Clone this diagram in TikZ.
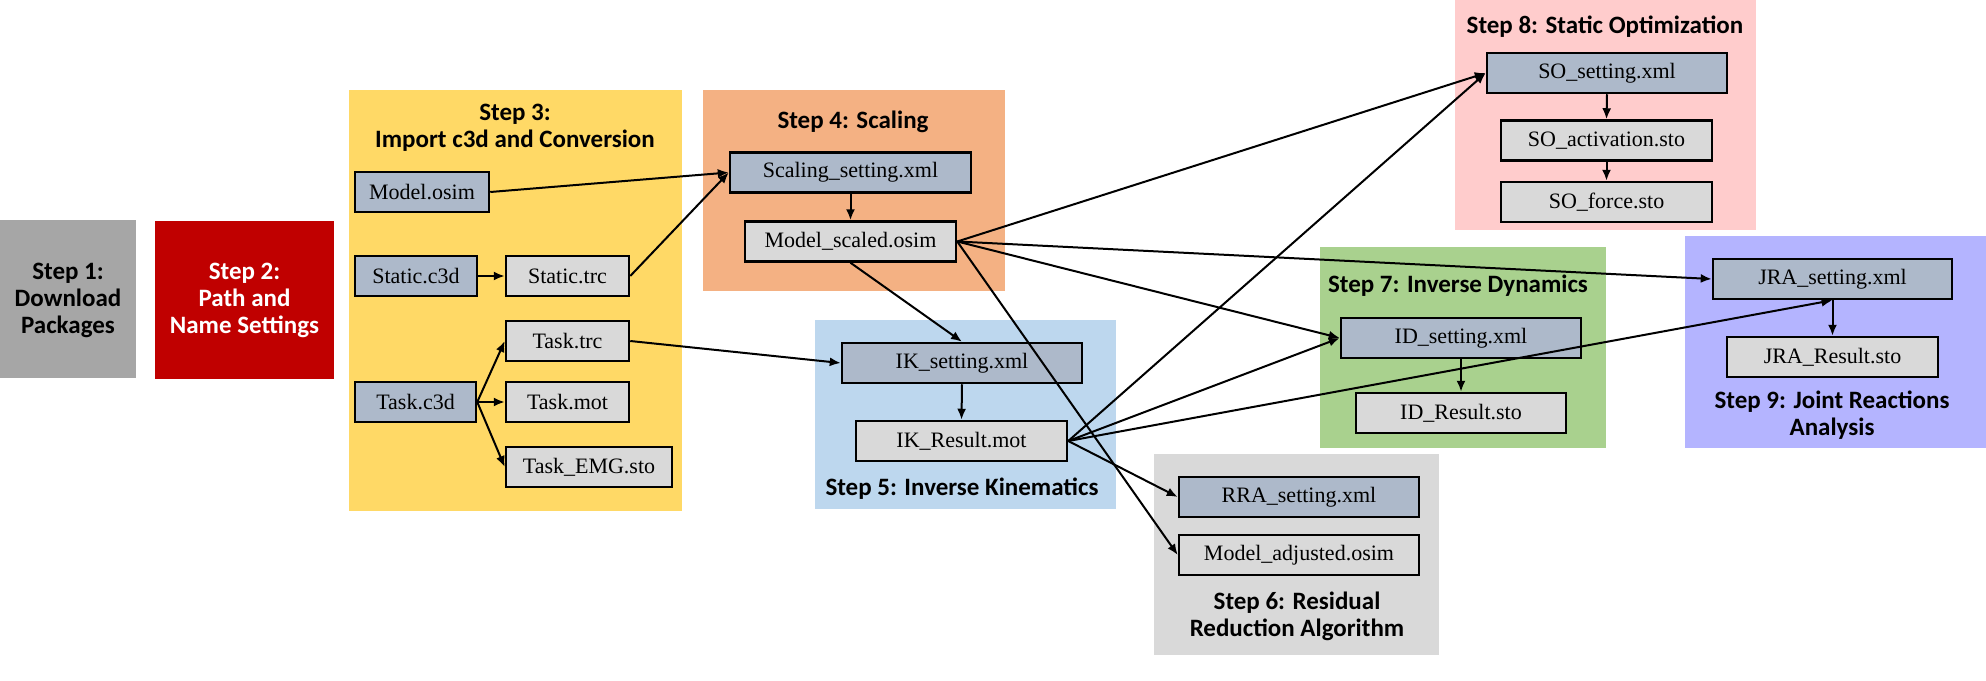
\documentclass[tikz,border=0pt]{standalone}
\usepackage{fontspec}
\setmainfont{Liberation Serif}
\newfontfamily\titlefont{Carlito}
\usetikzlibrary{arrows.meta}
\definecolor{cOne}{HTML}{A6A6A6}
\definecolor{cTwo}{HTML}{C00000}
\definecolor{cThree}{HTML}{FFD966}
\definecolor{cFour}{HTML}{F4B183}
\definecolor{cFive}{HTML}{BDD7EE}
\definecolor{cSix}{HTML}{D9D9D9}
\definecolor{cSeven}{HTML}{A9D18E}
\definecolor{cEight}{HTML}{FFCCCC}
\definecolor{cNine}{HTML}{B4B4FF}
\definecolor{setc}{HTML}{ADB9CA}
\definecolor{resc}{HTML}{D9D9D9}
\begin{document}
\begin{tikzpicture}[x=1pt,y=-1pt,
  bg/.style={draw=none, inner sep=0pt},
  file/.style={draw=black, line width=2.5pt, inner sep=0pt, minimum height=40pt, font=\fontsize{22}{24}\selectfont},
  sett/.style={file, fill=setc},
  res/.style={file, fill=resc},
  ttl/.style={font=\titlefont\bfseries\fontsize{25}{27}\selectfont, align=center, inner sep=0pt},
  arr/.style={line width=2pt, -{Latex[length=11pt,width=9pt]}},
]
\useasboundingbox (0,0) rectangle (1986,680);
\fill[white] (0,0) rectangle (1986,680);
% backgrounds
\node[bg, fill=cOne,   minimum width=136pt, minimum height=158pt] (s1) at (68,299) {};
\node[bg, fill=cTwo,   minimum width=179pt, minimum height=158pt] (s2) at (244.5,300) {};
\node[bg, fill=cThree, minimum width=333pt, minimum height=421pt] (s3) at (515.5,300.5) {};
\node[bg, fill=cFour,  minimum width=302pt, minimum height=201pt] (s4) at (854,190.5) {};
\node[bg, fill=cFive,  minimum width=301pt, minimum height=189pt] (s5) at (965.5,414.5) {};
\node[bg, fill=cSix,   minimum width=285pt, minimum height=201pt] (s6) at (1296.5,554.5) {};
\node[bg, fill=cSeven, minimum width=286pt, minimum height=201pt] (s7) at (1463,347.5) {};
\node[bg, fill=cEight, minimum width=301pt, minimum height=230pt] (s8) at (1605.5,115) {};
\node[bg, fill=cNine,  minimum width=301pt, minimum height=212pt] (s9) at (1835.5,342) {};
% titles
\node[ttl] (t1) at (68,300) {Step 1:\\Download\\Packages};
\node[ttl, text=white] (t2) at (244.5,300) {Step 2:\\Path and\\Name Settings};
\node[ttl] (t3) at (515,128) {Step 3:\\Import c3d and Conversion};
\node[ttl] (t4) at (853,122) {Step 4: Scaling};
\node[ttl] (t5) at (962,489) {Step 5: Inverse Kinematics};
\node[ttl] (t6) at (1297,616) {Step 6: Residual\\Reduction Algorithm};
\node[ttl] (t7) at (1458,286) {Step 7: Inverse Dynamics};
\node[ttl] (t8) at (1605,27) {Step 8: Static Optimization};
\node[ttl] (t9) at (1832,415) {Step 9: Joint Reactions\\Analysis};
% files
\node[sett, minimum width=134pt] (model) at (422,192) {Model.osim};
\node[sett, minimum width=122pt] (static) at (416,276) {Static.c3d};
\node[res, minimum width=123pt] (strc) at (567.5,276) {Static.trc};
\node[res, minimum width=123pt] (ttrc) at (567.5,341) {Task.trc};
\node[sett, minimum width=121pt] (tc3d) at (415.5,402) {Task.c3d};
\node[res, minimum width=123pt] (tmot) at (567.5,402) {Task.mot};
\node[res, minimum width=166pt] (temg) at (589,467) {Task\_EMG.sto};
\node[sett, minimum width=241pt] (scal) at (850.5,172.5) {Scaling\_setting.xml};
\node[res, minimum width=211pt] (msc) at (850.5,241.5) {Model\_scaled.osim};
\node[sett, minimum width=240pt] (iks) at (962,363) {IK\_setting.xml};
\node[res, minimum width=211pt] (ikr) at (961.5,441) {IK\_Result.mot};
\node[sett, minimum width=240pt] (rra) at (1299,497) {RRA\_setting.xml};
\node[res, minimum width=240pt] (madj) at (1299,555) {Model\_adjusted.osim};
\node[sett, minimum width=240pt] (ids) at (1461,338) {ID\_setting.xml};
\node[res, minimum width=210pt] (idr) at (1461,413) {ID\_Result.sto};
\node[sett, minimum width=240pt] (sos) at (1607,73) {SO\_setting.xml};
\node[res, minimum width=211pt] (soa) at (1606.5,140.5) {SO\_activation.sto};
\node[res, minimum width=211pt] (sof) at (1606.5,202) {SO\_force.sto};
\node[sett, minimum width=239pt] (jras) at (1832.5,279) {JRA\_setting.xml};
\node[res, minimum width=211pt] (jrar) at (1832.5,357) {JRA\_Result.sto};
% connectors
\draw[arr] (model.east) -- (scal.west);
\draw[arr] (strc.east) -- (scal.west);
\draw[arr] (static.east) -- (strc.west);
\draw[arr] (tc3d.east) -- (ttrc.west);
\draw[arr] (tc3d.east) -- (tmot.west);
\draw[arr] (tc3d.east) -- (temg.west);
\draw[arr] (ttrc.east) -- (iks.west);
\draw[arr] (scal.south) -- (msc.north);
\draw[arr] (msc.south) -- (iks.north);
\draw[arr] (msc.east) -- (sos.west);
\draw[arr] (msc.east) -- (jras.west);
\draw[arr] (msc.east) -- (ids.west);
\draw[arr] (msc.east) -- (madj.west);
\draw[arr] (iks.south) -- (ikr.north);
\draw[arr] (ikr.east) -- (sos.west);
\draw[arr] (ikr.east) -- (ids.west);
\draw[arr] (ikr.east) -- (jras.south);
\draw[arr] (ikr.east) -- (rra.west);
\draw[arr] (ids.south) -- (idr.north);
\draw[arr] (sos.south) -- (soa.north);
\draw[arr] (soa.south) -- (sof.north);
\draw[arr] (jras.south) -- (jrar.north);
\end{tikzpicture}
\end{document}
